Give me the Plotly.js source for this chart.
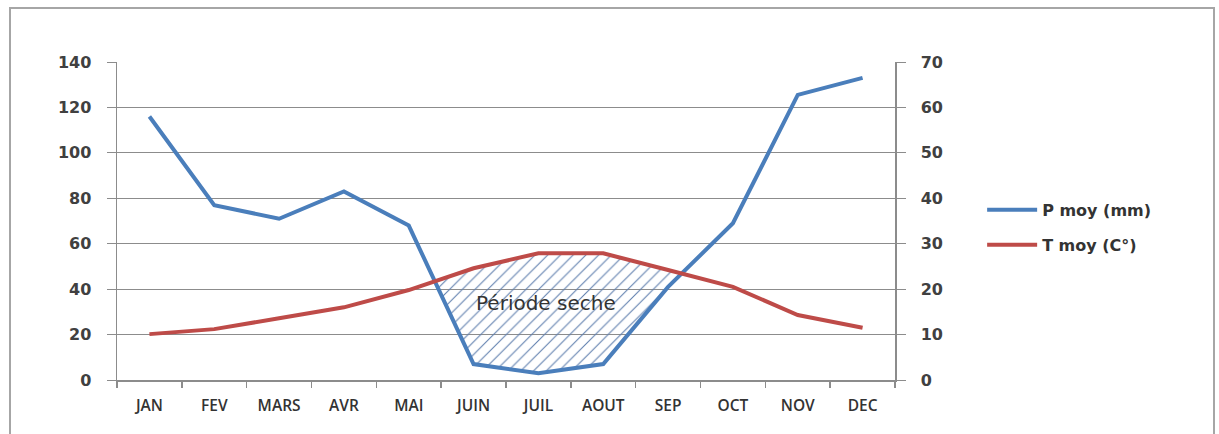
<!DOCTYPE html>
<html>
<head>
<meta charset="utf-8">
<script src="https://cdn.plot.ly/plotly-3.0.1.min.js"></script>
<style>
  html, body { margin: 0; padding: 0; background: #fff; }
  #wrap { position: relative; width: 1219px; height: 434px; overflow: hidden; }
  #chart { position: absolute; left: 0; top: 0; width: 1219px; height: 434px; }
  #frame { position: absolute; left: 9px; top: 7px; width: 1206px; height: 440px;
           border: 2px solid #a6a6a6; pointer-events: none; box-sizing: border-box; }
</style>
</head>
<body>
<div id="wrap">
  <div id="chart"></div>
  <div id="frame"></div>
</div>
<script>
// ---- data ----
const months = ["JAN", "FEV", "MARS", "AVR", "MAI", "JUIN", "JUIL", "AOUT", "SEP", "OCT", "NOV", "DEC"];
const pMoy = [116, 77, 71, 83, 68, 7, 3, 7, 41, 69, 125.5, 133];      // P moy (mm), left axis
const tMoy = [10.1, 11.2, 13.6, 16.0, 19.8, 24.6, 27.9, 27.9, 24.2, 20.5, 14.3, 11.5]; // T moy (C°), right axis
const seriesNames = ["P moy (mm)", "T moy (C°)"];
const annotationText = "Période seche";

// ---- derived ----
const idx = months.map((_, i) => i);
const pScale = 2; // left axis 0-140 vs right axis 0-70
const tInP = tMoy.map(v => v * pScale);

// dry period polygon: where P < 2T (computed from the series by linear interpolation)
function dryPolygon() {
  const d = idx.map(i => pMoy[i] - tInP[i]);
  let start = -1, end = -1;
  for (let i = 0; i < d.length - 1; i++) {
    if (d[i] > 0 && d[i + 1] <= 0 && start < 0) start = i;
    if (start >= 0 && d[i] <= 0 && d[i + 1] > 0) { end = i; break; }
  }
  const t1 = d[start] / (d[start] - d[start + 1]);
  const x1 = start + t1, y1 = pMoy[start] + t1 * (pMoy[start + 1] - pMoy[start]);
  const t2 = d[end] / (d[end] - d[end + 1]);
  const x2 = end + t2, y2 = pMoy[end] + t2 * (pMoy[end + 1] - pMoy[end]);
  const xs = [x1], ys = [y1];
  for (let i = start + 1; i <= end; i++) { xs.push(i); ys.push(tInP[i]); }
  xs.push(x2); ys.push(y2);
  for (let i = end; i >= start + 1; i--) { xs.push(i); ys.push(pMoy[i]); }
  xs.push(x1); ys.push(y1);
  return { xs, ys };
}
const poly = dryPolygon();

const blue = "#4A7EBB";
const red = "#BE4B48";
const grid = "#8c8c8c";
const tickFont = { family: "DejaVu Sans", size: 16, color: "#404040", weight: "bold" };
const legendFont = { family: "DejaVu Sans", size: 16, color: "#333", weight: "bold" };

const traces = [
  {
    x: poly.xs, y: poly.ys, type: "scatter", mode: "lines",
    fill: "toself", fillcolor: "rgba(0,0,0,0)",
    fillpattern: { shape: "/", fgcolor: "#5f7fae", bgcolor: "rgba(255,255,255,0)", size: 9, solidity: 0.12 },
    line: { width: 0 }, showlegend: false, hoverinfo: "skip", yaxis: "y"
  },
  {
    x: idx, y: pMoy, type: "scatter", mode: "lines", name: seriesNames[0],
    line: { color: blue, width: 4 }, yaxis: "y", legend: "legend"
  },
  {
    x: idx, y: tMoy, type: "scatter", mode: "lines", name: seriesNames[1],
    line: { color: red, width: 4 }, yaxis: "y2", legend: "legend2"
  }
];

const layout = {
  width: 1219, height: 434,
  margin: { l: 117, r: 324, t: 62, b: 54 },
  paper_bgcolor: "#fff", plot_bgcolor: "#fff",
  showlegend: true,
  xaxis: {
    range: [-0.5, 11.5], tickmode: "array", tickvals: idx, ticktext: months,
    ticks: "", showgrid: false, zeroline: false,
    showline: true, linecolor: grid, linewidth: 1.5,
    tickfont: { family: "Open Sans", size: 15.5, color: "#333", weight: 600 },
    ticklabelstandoff: 11,
    minor: { tickmode: "linear", tick0: -0.5, dtick: 1, ticks: "outside", ticklen: 6, tickcolor: grid, tickwidth: 1.5, showgrid: false },
    fixedrange: true
  },
  yaxis: {
    range: [0, 140], dtick: 20, tick0: 0,
    showgrid: true, gridcolor: grid, gridwidth: 1, zeroline: false,
    showline: true, linecolor: grid, linewidth: 1.5,
    ticks: "outside", ticklen: 9, tickcolor: grid, tickwidth: 1,
    tickfont: tickFont, ticklabelstandoff: 12, fixedrange: true
  },
  yaxis2: {
    range: [0, 70], dtick: 10, tick0: 0, overlaying: "y", side: "right",
    showgrid: false, zeroline: false,
    showline: true, linecolor: grid, linewidth: 1.5,
    ticks: "outside", ticklen: 9, tickcolor: grid, tickwidth: 1,
    tickfont: tickFont, ticklabelstandoff: 12, fixedrange: true
  },
  legend: {
    x: 1.112, y: 0.535, xanchor: "left", yanchor: "middle",
    font: legendFont, bgcolor: "rgba(0,0,0,0)", itemwidth: 50
  },
  legend2: {
    x: 1.112, y: 0.425, xanchor: "left", yanchor: "middle",
    font: legendFont, bgcolor: "rgba(0,0,0,0)", itemwidth: 50
  },
  annotations: [{
    x: 6.12, y: 34, xref: "x", yref: "y", text: annotationText, showarrow: false,
    font: { family: "DejaVu Sans", size: 20, color: "#333" }
  }]
};

Plotly.newPlot("chart", traces, layout, { displayModeBar: false, staticPlot: true });
</script>
</body>
</html>
